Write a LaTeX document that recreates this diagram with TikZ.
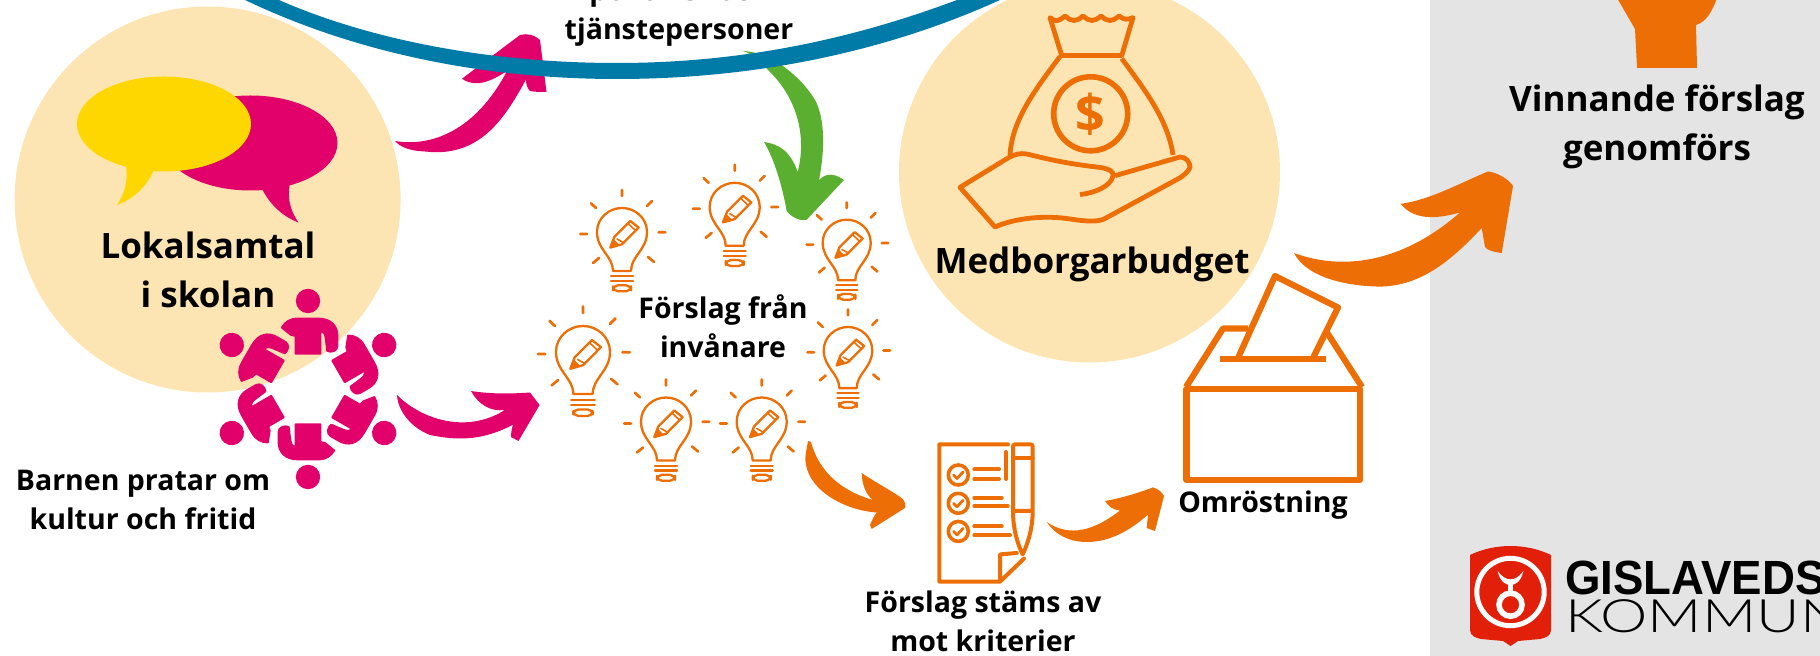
\documentclass[tikz,border=0pt]{standalone}
\usepackage{fontspec}
\setmainfont{Open Sans}
\newfontfamily\logobold{Liberation Sans}
\newfontfamily\logolight{Lato Light}
\definecolor{beige}{HTML}{FDE5B3}
\definecolor{pinkc}{HTML}{E2006A}
\definecolor{yellowc}{HTML}{FFD700}
\definecolor{orangec}{HTML}{EC6E05}
\definecolor{bluec}{HTML}{007BA7}
\definecolor{greenc}{HTML}{5AAF30}
\definecolor{grayp}{HTML}{E4E4E4}
\definecolor{redl}{HTML}{E2200A}
\tikzset{
  bigtxt/.style={font=\fontsize{17.5}{24.5}\selectfont\bfseries,align=center,inner sep=0pt,anchor=base},
  smalltxt/.style={font=\fontsize{14.25}{19.6}\selectfont\bfseries,align=center,inner sep=0pt,anchor=base},
  ico/.style={draw=orangec,line width=3.1pt,line join=round},
  thin ico/.style={draw=orangec,line width=1.15pt,line cap=round,line join=round},
  ray ico/.style={draw=orangec,line width=1.35pt,line cap=round}
}
\newcommand\bulbicon[3]{%
\begin{scope}[shift={(#1,#2)},scale=#3]
  \draw[thin ico] (-9,63) .. controls (-9,48) and (-25,42) .. (-25,24) .. controls (-25,10) and (-13,0) .. (0,0)
     .. controls (13,0) and (25,10) .. (25,24) .. controls (25,42) and (9,48) .. (9,63) -- cycle;
  \draw[thin ico] (-11,68.3) -- (11,68.3) (-11,73) -- (11,73);
  \draw[thin ico,rounded corners=2.5pt] (-9,77.3) rectangle (9,83.3);
  \draw[thin ico] (-11.7,39.6) -- (-7.7,29) -- (8.3,13) -- (16.6,19.6) -- (0,36.3) -- cycle;
  \draw[thin ico,line width=0.8pt] (-5,31) -- (2,35) (6,15.5) -- (13.5,22.5);
  \fill[orangec] (-11.7,39.6) -- (-8.5,31) -- (-2.5,37) -- cycle;
  \draw[ray ico] (0,-18) -- (0,-12) (-31,-4.7) -- (-26,0) (30,-7) -- (25,-2) (-41.7,26) -- (-35,26)
     (36.6,24.3) -- (43.3,24.3) (-23,50) -- (-29,55) (26,49) -- (32,54);
\end{scope}}
\begin{document}
\begin{tikzpicture}[x=0.5pt,y=-0.5pt]
\useasboundingbox (0,0) rectangle (1820,656);
\clip (0,0) rectangle (1820,656);
% panel
\fill[grayp] (1430,0) rectangle (1820,656);
% circles
\fill[beige] (207.6,199.5) circle (193);
\fill[beige] (1089.5,172) circle (190.5);
% speech bubbles
\fill[pinkc] (250.5,143) ellipse (87 and 47.5);
\fill[pinkc] (261,187) .. controls (270,205) and (282,216) .. (298.5,222.6) .. controls (290,210) and (287,198) .. (290,183) -- cycle;
\fill[yellowc] (164,124) ellipse (87 and 47.5);
\fill[yellowc] (126,165) .. controls (128,182) and (125,193) .. (117,205) .. controls (133,199) and (146,188) .. (154,170) -- cycle;
% pink arrows
\fill[pinkc] (395,141) .. controls (430,147) and (475,132) .. (507,71) .. controls (490,82) and (475,88) .. (462,78.7)
  -- (520,35) .. controls (527,33) and (535,35) .. (540,40) -- (546.5,92) .. controls (540,92) and (535,92) .. (530,91) .. controls (527,88) and (526,84) .. (526,79.5)
  .. controls (505,118) and (480,158) .. (425,151.5) .. controls (410,151) and (400,147) .. (395,141) -- cycle;
\fill[pinkc] (397,395) .. controls (420,418) and (465,435) .. (505,410) .. controls (490,412) and (478,404) .. (471,391)
  .. controls (490,394) and (510,394) .. (530,392.5) -- (539.6,405) -- (518.5,441) -- (511,437) .. controls (511,432) and (512,428) .. (513,424.7)
  .. controls (480,442) and (455,440) .. (430,435) .. controls (412,428) and (398,412) .. (397,395) -- cycle;
% green arrow
\fill[greenc] (743,51) .. controls (770,52) and (800,75) .. (815,100) .. controls (825,118) and (825,150) .. (819,180)
  .. controls (825,174) and (833,172) .. (844,180) -- (806.7,219.7) .. controls (800,222) and (790,216) .. (786.7,211)
  .. controls (783,190) and (775,160) .. (764,142) .. controls (778,144) and (790,150) .. (797.7,172)
  .. controls (806,140) and (800,100) .. (767,69) .. controls (760,60) and (752,54) .. (743,51) -- cycle;
% blue arc
\fill[bluec] (245,0) .. controls (360,55) and (490,79) .. (617,79) .. controls (760,79) and (890,50) .. (1000,0)
  -- (957,0) .. controls (850,40) and (740,63) .. (617,63) .. controls (490,63) and (370,40) .. (279,0) -- cycle;
% orange arrows
\fill[orangec] (808,441) -- (811,442) .. controls (820,475) and (845,492) .. (873,500) .. controls (866,495) and (862,485) .. (861.7,473)
  .. controls (875,482) and (890,490) .. (901.7,498) .. controls (905,501) and (906,505) .. (905,508) -- (871.7,529) -- (870,525) .. controls (872,520) and (874,516) .. (876.7,512.5)
  .. controls (840,510) and (800,485) .. (806,452) -- cycle;
\fill[orangec] (1046.7,522) .. controls (1070,538) and (1095,530) .. (1120,510.5) .. controls (1113,510) and (1108,506) .. (1105,501)
  .. controls (1122,498) and (1138,493) .. (1153,487.4) .. controls (1158,489) and (1162,492) .. (1164,496) -- (1155,531) -- (1146.7,528) -- (1148,514.6)
  .. controls (1125,535) and (1105,542) .. (1086.7,542) .. controls (1070,542) and (1055,535) .. (1046.7,522) -- cycle;
\fill[orangec] (1294,253) .. controls (1340,270) and (1400,265) .. (1460,212.5) .. controls (1440,218) and (1415,222) .. (1400.7,203.8)
  .. controls (1430,200) and (1460,183) .. (1488,171.5) .. controls (1495,172) and (1508,178) .. (1513,186) -- (1501.7,253)
  .. controls (1493,252) and (1487,250) .. (1485,247) -- (1481.7,228) .. controls (1450,262) and (1420,286) .. (1380,286.6)
  .. controls (1340,286) and (1305,275) .. (1294,253) -- cycle;
% top orange bulb
\fill[orangec] (1617,-2) -- (1635,29) -- (1637,68) -- (1697,68) -- (1696,25) .. controls (1706,22) and (1712,12) .. (1717,-2) -- cycle;
% bulbs
\bulbicon{622}{208}{1}
\bulbicon{734.7}{182.8}{1}
\bulbicon{846.7}{219.7}{0.96}
\bulbicon{583}{326}{1.08}
\bulbicon{848}{327}{0.97}
\bulbicon{666}{397.5}{1}
\bulbicon{761.7}{397.5}{1}
% people
\foreach \a in {0,60,...,300}{
\begin{scope}[rotate around={\a:(308,389)}]
  \fill[pinkc] (308,301) circle (12.2);
  \filldraw[fill=pinkc,draw=pinkc,line width=0.9pt,line join=round] (281.7,327.5) .. controls (285,322) and (290,318.5) .. (298,318.5) -- (318,318.5) .. controls (331,318.5) and (337.5,326) .. (337.5,336)
    -- (337.5,346) .. controls (337.5,351) and (331,353) .. (327.2,351) -- (326,341) .. controls (325.5,335) and (324.5,332) .. (320.5,331) -- (320.5,353.8) -- (295.5,353.8) -- (295.5,336)
    -- (291,335) -- cycle;
\end{scope}}
% money bag
\draw[ico,line width=2.4pt] (1050,17.6) .. controls (1055,22) and (1058,22) .. (1065,16) .. controls (1072,22) and (1076,22) .. (1083,16)
  .. controls (1090,22) and (1094,22) .. (1101,16) .. controls (1108,22) and (1112,22) .. (1119,16) .. controls (1124,20) and (1128,20) .. (1133,17.6)
  -- (1121.7,55.6) -- (1061.7,55.6) -- cycle;
\draw[ico,line width=2.4pt] (1060,56.5) .. controls (1035,90) and (1012,120) .. (1010,155);
\draw[ico,line width=2.4pt] (1121.7,58.6) .. controls (1145,90) and (1168,120) .. (1173,155);
\draw[ico,line width=2.8pt] (1090.7,113.8) circle (37);
\node[text=orangec,font=\fontsize{26}{26}\selectfont\bfseries,inner sep=0pt] (dollar) at (1090.7,114) {\$};
\draw[ico,line width=2.4pt] (1008,158) .. controls (1015,154) and (1020,153) .. (1026.7,154) .. controls (1040,157) and (1060,163) .. (1100,167.4)
  .. controls (1110,169) and (1114,172) .. (1113,176) .. controls (1111,186) and (1095,193) .. (1080,194.6);
\draw[ico,line width=2.4pt] (1115,175.7) -- (1180,157) .. controls (1186,157) and (1190,162) .. (1190,167.4) .. controls (1188,172) and (1184,175) .. (1180,177.8)
  -- (1106.7,217.6) .. controls (1100,222) and (1090,222) .. (1070,219) .. controls (1045,215) and (1015,218) .. (995,227) -- (960,187.4) -- (1008,158);
% checklist
\draw[thin ico,line width=2pt] (1008,444.4) -- (939.3,444.4) -- (939.3,581.6) -- (1000,581.6) -- (1024,558.6);
\draw[thin ico,line width=2pt] (1000,579) -- (1000,554.4) -- (1016.7,553);
\draw[thin ico,line width=2pt] (1006,452) -- (1006,479);
\draw[thin ico,line width=2pt,rounded corners=1pt] (1013,511) -- (1013,444.4) -- (1032.7,444.4) -- (1032.7,511) -- cycle;
\draw[thin ico,line width=2pt] (1013,458) -- (1032.7,458);
\draw[thin ico,line width=2pt] (1013,511) .. controls (1013,530) and (1018,545) .. (1022.7,554.4) .. controls (1027,545) and (1032.7,530) .. (1032.7,511);
\foreach \cy in {475,503.3,531.4}{
  \draw[thin ico,line width=1.8pt] (958.3,\cy) circle (10);
  \draw[thin ico,line width=1.4pt] (953.5,\cy) -- (957,\cy+3.5) -- (963,\cy-3);
}
\draw[thin ico,line width=2pt] (974.3,469.5) -- (999,469.5) (974.3,479) -- (999,479)
  (974.3,498) -- (1001.7,498) (974.3,506) -- (1007.7,506)
  (974.3,526) -- (1001.7,526) (974.3,535) -- (1010,535);
% ballot box
\draw[ico] (1186.5,389) rectangle (1360,480);
\draw[ico] (1186,387) -- (1223,328.5) -- (1248,328.5);
\draw[ico] (1327,332.6) -- (1362,387);
\draw[ico] (1220,359) -- (1326,359);
\draw[ico] (1238,358) -- (1275,276) -- (1338,307.5) -- (1313,358);
% logo
\fill[redl] (1470,555) .. controls (1495,543) and (1526,543) .. (1551,555) -- (1551,630) .. controls (1551,636) and (1545,638) .. (1540,639) -- (1518,641) -- (1510.5,646) -- (1503,641) -- (1481,639)
  .. controls (1476,638) and (1470,636) .. (1470,630) -- cycle;
\draw[white,line width=2.5pt] (1510.5,592) circle (33.7);
\draw[white,line width=2.8pt] (1510.5,604.7) circle (11.5);
\fill[white] (1497.7,571) .. controls (1500,582) and (1506,585) .. (1510.5,585) .. controls (1515,585) and (1521,582) .. (1523.3,571) .. controls (1519,577) and (1515,579.3) .. (1510.5,579.3) .. controls (1506,579.3) and (1502,577) .. (1497.7,571) -- cycle;
\fill[white] (1507.8,584) rectangle (1513.2,594);
\node[font=\fontsize{24}{24}\selectfont\logobold\bfseries,inner sep=0pt,anchor=base west,xscale=0.95] (gislaved) at (1565,595) {GISLAVEDS};
\node[font=\fontsize{23}{24}\selectfont\logolight,inner sep=0pt,anchor=base west,xscale=1.3] (kommun) at (1565,632.7) {KOMMUN};
% labels
\node[bigtxt] (lokal) at (208,307.5) {Lokalsamtal\\i skolan};
\node[bigtxt] (medb) at (1092,274) {Medborgarbudget};
\node[bigtxt] (vinn) at (1657,161) {Vinnande förslag\\genomförs};
\node[smalltxt] (barn) at (143,530) {Barnen pratar om\\kultur och fritid};
\node[smalltxt] (polit) at (679,40) {politiker och\\tjänstepersoner};
\node[smalltxt] (fran) at (723,358) {Förslag från\\invånare};
\node[smalltxt] (stam) at (983,652) {Förslag stäms av\\mot kriterier};
\node[smalltxt] (omr) at (1263,512.5) {Omröstning};
\end{tikzpicture}
\end{document}
